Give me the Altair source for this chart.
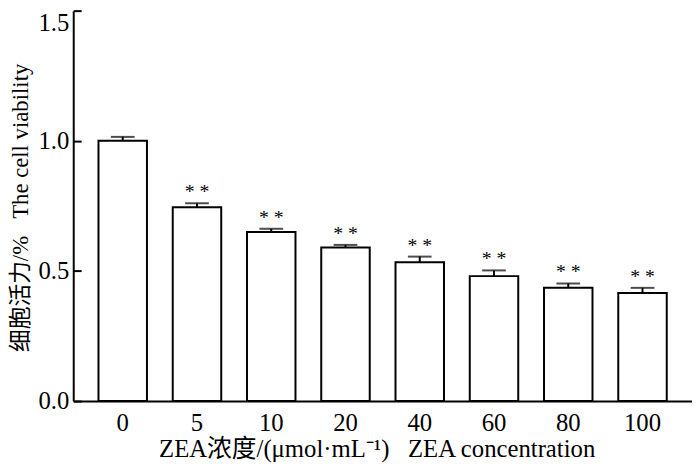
import altair as alt
import pandas as pd

conc = ["0", "5", "10", "20", "40", "60", "80", "100"]
viability = [1.0, 0.745, 0.65, 0.59, 0.533, 0.48, 0.435, 0.415]
err = [0.015, 0.015, 0.012, 0.01, 0.022, 0.022, 0.017, 0.02]
sig = ["", "* *", "* *", "* *", "* *", "* *", "* *", "* *"]
y_ticks = [0.0, 0.5, 1.0, 1.5]

df = pd.DataFrame({"conc": conc, "v": viability, "e": err, "sig": sig})
df["top"] = df["v"] + df["e"]

FONT = "Liberation Serif"
TFONT = "Liberation Serif, Noto Sans CJK SC"
SP = "\u00a0\u00a0\u00a0"

x = alt.X(
    "conc:N",
    sort=conc,
    scale=alt.Scale(paddingInner=0.347, paddingOuter=0.34),
    axis=alt.Axis(
        title="ZEA浓度/(μmol·mL⁻¹)" + SP + "ZEA concentration",
        labelAngle=0,
        ticks=False,
        tickSize=0,
        labelPadding=30,
        labelBaseline="alphabetic",
        labelFont="Times New Roman",
        titleBaseline="alphabetic",
        titleY=56,
        titleX=307,
    ),
)

y_scale = alt.Scale(domain=[0, 1.5], nice=False, zero=True)
y_axis = alt.Axis(
    title="细胞活力/%" + SP + "The cell viability",
    values=y_ticks,
    format=".1f",
    tickSize={"expr": "-8"},
    tickWidth=2,
    tickColor="black",
    labelPadding=12.5,
    labelFont="Liberation Serif",
    labelBaseline={"condition": {"test": "datum.value == 1.5", "value": "top"}, "value": "middle"},
    titleBaseline="alphabetic",
    titleFontSize=23,
    titleX=-46,
    titleY=199,
)

base = alt.Chart(df)

bars = base.mark_bar(fill="white", stroke="black", strokeWidth=2).encode(
    x=x,
    y=alt.Y("v:Q", scale=y_scale, axis=y_axis),
)

rules = base.mark_rule(color="black", strokeWidth=2).encode(
    x=alt.X("conc:N", sort=conc),
    y=alt.Y("v:Q"),
    y2="top:Q",
)

caps = base.mark_tick(color="black", size=24, thickness=2).encode(
    x=alt.X("conc:N", sort=conc),
    y=alt.Y("top:Q"),
)

stars = base.mark_text(
    font="Liberation Serif", fontSize=20, color="black", baseline="alphabetic", dy=-5
).encode(
    x=alt.X("conc:N", sort=conc),
    y=alt.Y("top:Q"),
    text="sig:N",
)

chart = (
    alt.layer(bars, rules, caps, stars)
    .properties(
        width=626,
        height=395,
        autosize=alt.AutoSizeParams(type="none"),
        padding={"left": 66, "top": 0, "right": 0, "bottom": 62},
    )
    .configure_view(stroke=None)
    .configure_axis(
        grid=False,
        domainColor="black",
        domainWidth=2,
        labelColor="black",
        labelFontSize=25,
        titleFont=TFONT,
        titleFontSize=25,
        titleFontWeight="normal",
        titleColor="black",
    )
)

chart.save("out.html", embed_options={"renderer": "svg", "actions": False})
